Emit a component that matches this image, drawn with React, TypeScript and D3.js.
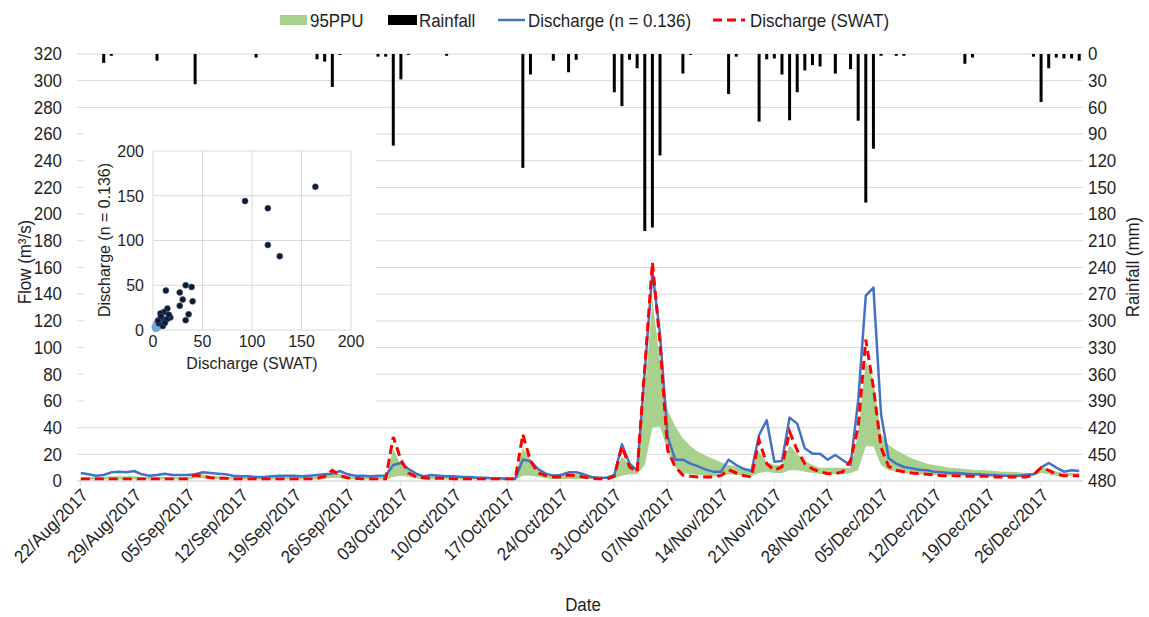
import React from "react";
import * as d3 from "d3";

// ---------- DATA ----------
const startDate = new Date(2017, 7, 22);
const dayCount = 132; // 22/Aug/2017 .. 31/Dec/2017

const rainfall = [
  0, 0, 0, 10, 2, 0, 0, 0, 0, 0,
  7.5, 0, 0, 0, 0, 34, 0, 0, 0, 0,
  0, 0, 0, 4, 0, 0, 0, 0, 0, 0,
  0, 6, 8.5, 37, 1, 0, 0, 0, 0, 3,
  3, 103, 28.5, 1, 0, 0, 0, 0, 2, 0,
  0, 0, 0, 0, 0, 0, 0, 0, 128, 23,
  0, 0, 7.5, 0, 20.5, 6.5, 0, 0, 0, 0,
  43, 58.5, 6.5, 16, 199, 195, 114, 0, 0, 22,
  1, 0, 0, 0, 0, 45, 3, 0, 0, 76,
  6, 5, 23, 74.5, 43, 18.5, 12.5, 14, 0, 22,
  0, 17, 75, 167, 106.5, 2, 0, 2, 2, 0,
  0, 0, 0, 0, 0, 0, 11, 4, 0, 0,
  0, 0, 0, 0, 0, 3, 54, 16, 4, 5,
  5, 7.5,
];

const dischargeN = [
  6, 5, 4, 4.5, 6.5, 7, 6.5, 7.5, 5, 4,
  4.5, 5.5, 4.5, 4.5, 4.5, 5, 6.5, 6, 5.5, 5,
  4, 3.5, 3.5, 3, 3, 3.5, 4, 4, 4, 3.5,
  4, 4.5, 5, 5.5, 7.5, 5, 4, 4, 3.5, 4,
  4, 12, 13.5, 9, 5.5, 3.5, 4.5, 4, 3.5, 3.5,
  3, 3, 2.5, 2.5, 2, 2, 1.5, 1.5, 16, 15,
  9, 5.5, 4, 4.5, 6.5, 6.5, 5, 3, 2.5, 2.5,
  4.5, 27.5, 13, 8, 82, 157, 110, 33, 16, 16,
  13, 11, 8.5, 7, 7, 16, 12, 9, 7.5, 34.5,
  45.5, 14.5, 15, 47.5, 43, 24.5, 20.5, 20.5, 16, 19.5,
  15.5, 12, 60, 139, 145, 50, 17, 13, 10.5, 9.5,
  8.5, 8, 7, 6.5, 6, 6, 5.5, 5, 5, 4.5,
  4.5, 4, 4, 4, 4.5, 5, 10, 13.5, 10, 7,
  8, 7.5,
];

const dischargeSWAT = [
  1.5, 1.5, 1.5, 1.5, 1.5, 1.5, 1.5, 1.5, 1.5, 1.5,
  1.5, 1.5, 1.5, 1.5, 1.5, 4.5, 3.5, 2.5, 2, 2,
  1.5, 1.5, 1.5, 1.5, 1.5, 1.5, 1.5, 1.5, 1.5, 1.5,
  1.5, 2, 3.5, 8, 4, 2.5, 2, 1.5, 1.5, 1.5,
  1.5, 33, 16, 6, 3, 2.5, 2, 2, 2, 1.5,
  1.5, 1.5, 1.5, 1.5, 1.5, 1.5, 1.5, 1.5, 35, 15,
  6, 4, 3, 3, 4.5, 4, 3, 2, 1.5, 1.5,
  3.5, 26, 10.5, 7, 85, 164, 103, 23, 10.5, 4.5,
  3.5, 3, 3, 3, 4, 8.5, 6, 4, 3, 30.5,
  13, 8, 10.5, 37, 23, 13, 9, 7, 5.5, 5.5,
  7, 15.5, 40, 106, 70, 25, 11, 8, 7, 6,
  5.5, 5, 4.5, 4, 4, 4, 3.5, 3.5, 3.5, 3.5,
  3, 3, 3, 3, 3, 4.5, 10, 8, 5, 4,
  4, 4,
];

const ppuLower = [
  1.2, 1.2, 1.2, 1.2, 1.2, 1.2, 1.2, 1.2, 1.2, 1.2,
  1.2, 1.2, 1.2, 1.2, 1.2, 2, 2, 1.5, 1.2, 1.2,
  1.2, 1.2, 1.2, 1.2, 1.2, 1.2, 1.2, 1.2, 1.2, 1.2,
  1.2, 1.2, 1.5, 2.5, 2, 1.5, 1.2, 1.2, 1.2, 1.2,
  1.2, 3, 4, 3, 2, 1.2, 1.2, 1.2, 1.2, 1.2,
  1.2, 1.2, 1.2, 1.2, 1.2, 1.2, 1.2, 1.2, 4, 4,
  3, 2, 1.5, 1.5, 1.5, 1.5, 1.5, 1.5, 1.5, 1.5,
  2, 4, 5, 5, 12, 40, 41, 22, 10, 6,
  5, 4.5, 4, 3.5, 3.5, 5, 4.5, 4, 3.5, 6,
  7, 6, 6, 8, 8, 7, 6, 5.5, 5, 5,
  5, 6, 8, 26, 26, 12, 8, 7, 6, 5.5,
  5, 4.5, 4.5, 4, 4, 4, 3.5, 3.5, 3.5, 3.5,
  3, 3, 3, 3, 3, 4, 6, 5, 4, 4,
  4, 4,
];

const ppuUpper = [
  3, 3, 3, 3, 3.5, 3.5, 3.5, 3.5, 3, 3,
  3, 3, 3, 3, 3, 5, 5, 4, 3.5, 3,
  3, 3, 3, 3, 3, 3, 3, 3, 3, 3,
  3, 3.5, 4.5, 7, 5, 3.5, 3, 3, 3, 3,
  3, 24, 12, 8, 5, 4, 3.5, 3.5, 3, 3,
  3, 3, 3, 3, 3, 3, 3, 3, 25, 16,
  8, 5.5, 5, 5.5, 5.5, 5, 4, 3, 3, 3,
  5, 18.5, 12, 8, 65, 136, 90, 53, 41, 32,
  26, 22, 19, 16.5, 14, 12, 11, 10, 9, 22,
  14, 12, 12, 27, 20, 15, 12, 10, 10, 10,
  10, 10, 35, 90, 75, 35, 27, 23, 20, 17,
  15, 13, 12, 11, 10, 9.5, 9, 8.5, 8, 8,
  7.5, 7, 7, 6.5, 6, 6, 10, 9, 7, 6,
  6, 6,
];

const flowTicks = [0, 20, 40, 60, 80, 100, 120, 140, 160, 180, 200, 220, 240, 260, 280, 300, 320];
const rainTicks = [0, 30, 60, 90, 120, 150, 180, 210, 240, 270, 300, 330, 360, 390, 420, 450, 480];
const dateTickStep = 7;

// inset scatter: [SWAT, n = 0.136]
const scatterDark: [number, number][] = [
  [164, 160], [93, 144], [116, 136], [116, 95], [128, 82.5],
  [13, 44], [33, 50], [39, 48], [27, 42], [30, 34], [40, 32], [27, 27],
  [36, 17.5], [33, 11], [14.5, 24], [17.5, 14], [11, 20], [7.5, 18.5],
  [9, 13], [14, 12], [6, 7.5], [10, 4.5], [5, 10.5], [16, 17], [12, 8], [8, 15],
];
const scatterLight: [number, number][] = [
  [2, 2], [3, 4], [4, 1.5], [1.5, 3.5], [5, 5], [3, 7], [6, 3], [2.5, 1],
];
const insetTicks = [0, 50, 100, 150, 200];

// ---------- COMPONENT ----------
const FONT = "'Liberation Sans', Arial, sans-serif";
const GRID = "#d9d9d9";
const TXT = "#1e1e1e";
const SX = 0.94;

type TP = {
  x: number;
  y: number;
  rot?: number;
  anchor?: "start" | "middle" | "end";
  size?: number;
  dy?: string;
  children: React.ReactNode;
};
function T({ x, y, rot = 0, anchor = "start", size = 18, dy, children }: TP) {
  return (
    <text
      transform={`translate(${x},${y}) rotate(${rot}) scale(${SX},1)`}
      textAnchor={anchor}
      fontSize={size}
      dy={dy}
      fill={TXT}
    >
      {children}
    </text>
  );
}

export default function App() {
  const dates = d3.range(dayCount).map((i) => d3.timeDay.offset(startDate, i));
  const x = d3
    .scaleTime()
    .domain([d3.timeHour.offset(dates[0], -12), d3.timeHour.offset(dates[dayCount - 1], 12)])
    .range([77, 1083]);
  const yL = d3.scaleLinear().domain([0, 320]).range([481, 54]);
  const yR = d3.scaleLinear().domain([0, 480]).range([54, 481]);

  const area = d3
    .area<number>()
    .x((_, i) => x(dates[i]))
    .y0((_, i) => yL(ppuLower[i]))
    .y1((_, i) => yL(ppuUpper[i]));
  const line = (vals: number[]) =>
    d3
      .line<number>()
      .x((_, i) => x(dates[i]))
      .y((v) => yL(v))(vals) || "";

  const tickDates = dates.filter((_, i) => i % dateTickStep === 0);
  const fmt = d3.timeFormat("%d/%b/%Y");

  const xi = d3.scaleLinear().domain([0, 200]).range([153, 351]);
  const yi = d3.scaleLinear().domain([0, 200]).range([330, 151]);

  return (
    <svg
      width={1149}
      height={617}
      style={{ position: "absolute", left: 0, top: 0, background: "#fff" }}
      fontFamily={FONT}
    >
      <rect x={0} y={0} width={1149} height={617} fill="#fff" />
      {/* gridlines */}
      {flowTicks.map((t) => (
        <line key={"g" + t} x1={77} x2={1083} y1={yL(t)} y2={yL(t)} stroke={GRID} strokeWidth={1} />
      ))}
      {/* rainfall bars */}
      {rainfall.map((r, i) =>
        r > 0 ? (
          <rect key={"r" + i} x={x(dates[i]) - 1.5} y={yR(0)} width={3} height={yR(r) - yR(0)} fill="#000" />
        ) : null
      )}
      {/* 95PPU */}
      <path d={area(ppuLower) || ""} fill="#A9D18E" />
      {/* discharge lines */}
      <path d={line(dischargeN)} fill="none" stroke="#4472C4" strokeWidth={2.5} strokeLinejoin="round" />
      <path d={line(dischargeSWAT)} fill="none" stroke="#FF0000" strokeWidth={3} strokeDasharray="9 5" />
      {/* x axis */}
      <line x1={77} x2={1083} y1={481} y2={481} stroke={GRID} strokeWidth={1} />
      {tickDates.map((d, i) => (
        <g key={"xt" + i}>
          <line x1={x(d)} x2={x(d)} y1={481} y2={486} stroke={GRID} />
          <T x={x(d) + 4} y={492} rot={-45} anchor="end" dy="0.35em">
            {fmt(d)}
          </T>
        </g>
      ))}
      {/* left axis labels */}
      {flowTicks.map((t) => (
        <T key={"yl" + t} x={62} y={yL(t)} anchor="end" dy="0.35em">
          {t}
        </T>
      ))}
      {/* right axis labels */}
      {rainTicks.map((t) => (
        <T key={"yr" + t} x={1088} y={yR(t)} anchor="start" dy="0.35em">
          {t}
        </T>
      ))}
      {/* axis titles */}
      <T x={31} y={262} rot={-90} anchor="middle">
        Flow (m³/s)
      </T>
      <T x={1139} y={267} rot={-90} anchor="middle">
        Rainfall (mm)
      </T>
      <T x={583} y={611} anchor="middle">
        Date
      </T>

      {/* legend */}
      <rect x={280} y={15} width={27} height={10} fill="#A9D18E" />
      <T x={310} y={27}>95PPU</T>
      <rect x={388} y={15} width={29} height={10} fill="#000" />
      <T x={419} y={27}>Rainfall</T>
      <line x1={498} x2={525} y1={20} y2={20} stroke="#4472C4" strokeWidth={2.5} />
      <T x={528} y={27}>Discharge (n = 0.136)</T>
      <line x1={713} x2={745} y1={20} y2={20} stroke="#FF0000" strokeWidth={3} strokeDasharray="9 5" />
      <T x={750} y={27}>Discharge (SWAT)</T>

      {/* inset */}
      <rect x={84} y={118} width={292} height={294} fill="#fff" />
      {insetTicks.map((t) => (
        <g key={"ig" + t}>
          <line x1={xi(t)} x2={xi(t)} y1={yi(0)} y2={yi(200)} stroke={GRID} />
          <line x1={xi(0)} x2={xi(200)} y1={yi(t)} y2={yi(t)} stroke={GRID} />
          <T x={xi(t)} y={yi(0) + 11} anchor="middle" size={17} dy="0.35em">
            {t}
          </T>
          <T x={xi(0) - 9} y={yi(t)} anchor="end" size={17} dy="0.35em">
            {t}
          </T>
        </g>
      ))}
      {scatterLight.map((p, i) => (
        <circle key={"sl" + i} cx={xi(p[0])} cy={yi(p[1])} r={3} fill="#6FA8DC" />
      ))}
      {scatterDark.map((p, i) => (
        <circle key={"sd" + i} cx={xi(p[0])} cy={yi(p[1])} r={3} fill="#0f1a30" stroke="#3b5a8a" strokeWidth={0.6} />
      ))}
      <T x={252} y={369} anchor="middle" size={17}>
        Discharge (SWAT)
      </T>
      <T x={110} y={240} rot={-90} anchor="middle" size={17}>
        Discharge (n = 0.136)
      </T>
    </svg>
  );
}
